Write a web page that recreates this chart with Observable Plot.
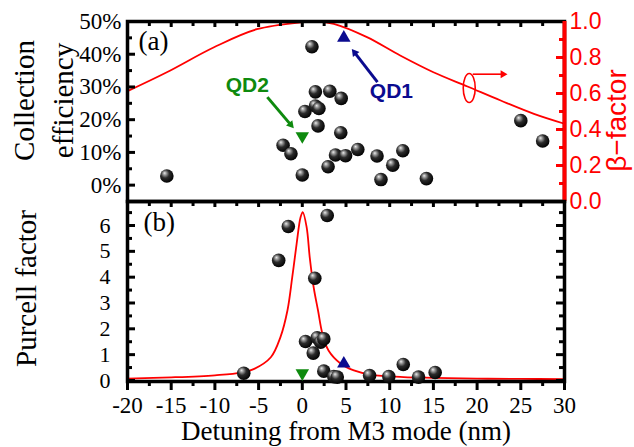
<!DOCTYPE html>
<html><head><meta charset="utf-8">
<script src="https://cdn.jsdelivr.net/npm/d3@7"></script>
<script src="https://cdn.jsdelivr.net/npm/@observablehq/plot@0.6"></script>
<style>
body{margin:0;background:#fff;}
#chart{position:relative;width:634px;height:447px;overflow:hidden;background:#fff;}
</style></head><body>
<svg width="0" height="0" style="position:absolute"><defs>
<radialGradient id="ball" cx="0.42" cy="0.4" r="0.62" fx="0.33" fy="0.28">
<stop offset="0" stop-color="#ececec"/><stop offset="0.2" stop-color="#9a9a9a"/><stop offset="0.5" stop-color="#2b2b2b"/><stop offset="1" stop-color="#000"/>
</radialGradient></defs></svg>
<div id="chart"></div>
<script>
// ---------- data ----------
// (a) collection efficiency of measured QDs
const effDetuning = [-15.5,-2.2,-1.3,0,0.3,1.1,1.5,1.5,1.9,1.8,3.15,4.45,4.4,2.95,3.8,4.95,6.35,8.55,10.35,11.5,9.0,14.2,25.0,27.5];
const effValue    = [2.8,12.2,9.6,3.1,22.5,42.3,28.5,24.2,23.4,18.1,28.7,26.5,16.0,5.6,9.2,9.0,10.9,8.9,6.1,10.5,1.7,2.0,19.7,13.5];
// beta-factor simulation curve
const betaDetuning = [-20,-15.5,-10.1,-5.2,0,1.5,3.6,7.4,11.2,15.0,18.9,22.7,26.5,30];
const betaValue    = [0.613,0.718,0.857,0.957,0.996,1.0,0.987,0.913,0.811,0.718,0.639,0.561,0.487,0.432];
// (b) Purcell factor of measured QDs
const purDetuning = [-6.7,-2.7,-1.6,0.37,1.25,1.43,1.7,2.1,2.46,2.85,2.46,3.6,4.0,7.7,9.9,11.55,13.3,15.2];
const purValue    = [0.28,4.65,5.96,1.51,1.06,3.96,1.65,1.48,1.61,6.39,0.36,0.15,0.13,0.19,0.15,0.62,0.13,0.31];
// Purcell simulation curve
const curveDetuning = [-20,-15,-10,-7,-5.5,-3.6,-2.5,-1.7,-1.15,-0.65,-0.2,0.05,0.5,0.85,1.3,1.8,2.3,3.0,4.4,5.9,7.8,11.6,15,20,25,30];
const curvePurcell  = [0.07,0.12,0.2,0.3,0.45,0.9,1.68,2.71,4.0,5.29,6.32,6.52,5.93,4.77,3.61,2.71,1.81,1.16,0.65,0.39,0.23,0.13,0.1,0.07,0.06,0.05];
// highlighted dots
const qdNames = ["QD1","QD2"];
const qdDetuning = [4.75, 0];
const qdEff = [45, 15];
const qdPurcell = [0.65, 0.28];
// ticks
const xLabels = [-20,-15,-10,-5,0,5,10,15,20,25,30];
const xMinor = [-17.5,-12.5,-7.5,-2.5,2.5,7.5,12.5,17.5,22.5,27.5];
const effLabels = [0,10,20,30,40,50];
const effMinor = [5,15,25,35,45];
const betaLabels = [0,0.2,0.4,0.6,0.8,1.0];
const betaMinor = [0.1,0.3,0.5,0.7,0.9];
const purLabels = [0,1,2,3,4,5,6];
const purMinor = [0.5,1.5,2.5,3.5,4.5,5.5,6.5];
// annotations (panel a coordinates: detuning, %)
const annoText = [{t:"QD2", x:-6.3, y:30.6, c:"#0e8a0e"},{t:"QD1", x:10.2, y:28.6, c:"#0b0b8f"}];
const annoArrows = [
  {x1:-4.0, y1:26.9, x2:-0.8, y2:16.8, c:"#0e8a0e", w:3, r:4.6},
  {x1:8.6,  y1:31.5, x2:5.5,  y2:42.2, c:"#0b0b8f", w:3, r:4.6},
  {x1:19.5, y1:33.9, x2:23.7, y2:33.9, c:"red",     w:1.6, r:4.2}
];
const ellipseAt = [{x:19.1, y:29.7}];

// ---------- build ----------
const W = 634, ML = 127, MR = 70, PW = W - ML - MR, PH = 180;
const X0 = -20, X1 = 30, Y0 = -5, Y1 = 50;
const kx = PW / (X1 - X0), ky = PH / (Y1 - Y0);   // px per data unit
const toPct = b => b * 55 - 5;
const eff = effDetuning.map((x,i)=>({x, y: effValue[i]}));
const beta = betaDetuning.map((x,i)=>({x, b: betaValue[i]}));
const pur = purDetuning.map((x,i)=>({x, y: purValue[i]}));
const pcurve = curveDetuning.map((x,i)=>({x, y: curvePurcell[i]}));
const qd = qdNames.map((n,i)=>({n, x: qdDetuning[i], e: qdEff[i], p: qdPurcell[i]}));
const qdColor = {QD1:"#0b0b8f", QD2:"#0e8a0e"};

// filled arrow heads: triangle at end of each shaft, rotated along the shaft direction
const heads = annoArrows.map(a => {
  const dxp = (a.x2 - a.x1) * kx, dyp = -(a.y2 - a.y1) * ky;
  const len = Math.hypot(dxp, dyp), ux = dxp / len, uy = dyp / len;
  const back = a.r * 1.55; // centroid distance from tip
  return {x: a.x2 - ux * back / kx, y: a.y2 + uy * back / ky, c: a.c, r: a.r,
          rot: Math.atan2(ux, -uy) * 180 / Math.PI,
          sx: a.x1, sy: a.y1, ex: a.x2 - ux * back * 1.2 / kx, ey: a.y2 + uy * back * 1.2 / ky, w: a.w};
});

const ellipse = {draw(ctx, size){ const rx=6, ry=14.5, k=0.5523;
  ctx.moveTo(0,-ry);
  ctx.bezierCurveTo(k*rx,-ry, rx,-k*ry, rx,0);
  ctx.bezierCurveTo(rx,k*ry, k*rx,ry, 0,ry);
  ctx.bezierCurveTo(-k*rx,ry, -rx,k*ry, -rx,0);
  ctx.bezierCurveTo(-rx,-k*ry, -k*rx,-ry, 0,-ry);
  ctx.closePath(); }};

const mid = {textAnchor: "middle", lineAnchor: "middle"};
const baseStyle = {position:"absolute", left:"0px", background:"transparent", overflow:"visible", fontFamily:"Liberation Serif", color:"black"};

const topPlot = Plot.plot({
  width: W, height: 201, marginTop: 21, marginBottom: 0, marginLeft: ML, marginRight: MR,
  x: {domain: [X0, X1], axis: null}, y: {domain: [Y0, Y1], axis: null},
  style: {...baseStyle, top: "0px"},
  marks: [
    Plot.line(beta, {x: "x", y: d => toPct(d.b), stroke: "red", strokeWidth: 1.8, curve: "catmull-rom"}),
    Plot.tickY(effLabels, {y: d => d, insetRight: PW - 8, strokeWidth: 3}),
    Plot.tickY(effMinor, {y: d => d, insetRight: PW - 5, strokeWidth: 3}),
    Plot.tickX(xLabels, {x: d => d, insetBottom: PH - 6, strokeWidth: 3}),
    Plot.tickX(xMinor, {x: d => d, insetBottom: PH - 5, strokeWidth: 3}),
    Plot.tickY(betaLabels, {y: d => toPct(d), insetLeft: PW - 8, stroke: "red", strokeWidth: 3}),
    Plot.tickY(betaMinor, {y: d => toPct(d), insetLeft: PW - 5, stroke: "red", strokeWidth: 3}),
    Plot.frame({strokeWidth: 3.5}),
    Plot.ruleX([X1], {stroke: "red", strokeWidth: 4}),
    Plot.axisY(effLabels, {anchor: "left", tickSize: 0, tickPadding: 6, tickFormat: d => d + "%", fontSize: 23, label: null}),
    Plot.axisY(betaLabels.map(toPct), {anchor: "right", tickSize: 0, tickPadding: 5, tickFormat: d => ((d + 5) / 55).toFixed(1), fill: "red", fontFamily: "Liberation Sans", fontSize: 23, label: null}),
    Plot.text(["Collection"], {frameAnchor: "left", ...mid, dx: -103, dy: -11, rotate: -90, fontSize: 29}),
    Plot.text(["efficiency"], {frameAnchor: "left", ...mid, dx: -64, dy: -11, rotate: -90, fontSize: 29}),
    Plot.text(["β−factor"], {frameAnchor: "right", ...mid, dx: 53, dy: 9, rotate: -90, fontSize: 28, fill: "red", fontFamily: "Liberation Sans"}),
    Plot.text(["(a)"], {frameAnchor: "top-left", textAnchor: "start", lineAnchor: "middle", dx: 11, dy: 20, fontSize: 27}),
    Plot.link(heads, {x1: "sx", y1: "sy", x2: "ex", y2: "ey", stroke: "c", strokeWidth: "w"}),
    Plot.dot(heads, {x: "x", y: "y", r: "r", symbol: "triangle", fill: "c", rotate: "rot"}),
    Plot.text(annoText, {x: "x", y: "y", text: "t", fill: "c", fontFamily: "Liberation Sans", fontWeight: "bold", fontSize: 21}),
    Plot.dot(ellipseAt, {x: "x", y: "y", symbol: ellipse, stroke: "red", strokeWidth: 1.6, fill: "none"}),
    Plot.dot(eff, {x: "x", y: "y", r: 6.8, fill: "url(#ball)"}),
    Plot.dot(qd, {x: "x", y: "e", r: 5, symbol: "triangle", fill: d => qdColor[d.n], rotate: d => d.n === "QD2" ? 180 : 0})
  ]
});

const botPlot = Plot.plot({
  width: W, height: 246, marginTop: 0, marginBottom: 66, marginLeft: ML, marginRight: MR,
  x: {domain: [X0, X1], axis: null}, y: {domain: [-0.04, 6.93], axis: null},
  style: {...baseStyle, top: "201px"},
  marks: [
    Plot.line(pcurve, {x: "x", y: "y", stroke: "red", strokeWidth: 1.8, curve: "catmull-rom"}),
    Plot.tickY(purLabels, {y: d => d, insetRight: PW - 8, strokeWidth: 3}),
    Plot.tickY(purMinor, {y: d => d, insetRight: PW - 5, strokeWidth: 3}),
    Plot.tickY(purLabels, {y: d => d, insetLeft: PW - 8, strokeWidth: 3}),
    Plot.tickY(purMinor, {y: d => d, insetLeft: PW - 5, strokeWidth: 3}),
    Plot.tickX(xLabels, {x: d => d, insetBottom: PH - 6, strokeWidth: 3}),
    Plot.tickX(xMinor, {x: d => d, insetBottom: PH - 5, strokeWidth: 3}),
    Plot.tickX(xLabels, {x: d => d, insetTop: PH, insetBottom: -9, strokeWidth: 3}),
    Plot.tickX(xMinor, {x: d => d, insetTop: PH, insetBottom: -5, strokeWidth: 3}),
    Plot.frame({strokeWidth: 3.5}),
    Plot.axisX(xLabels, {anchor: "bottom", tickSize: 0, tickPadding: 15, tickFormat: d => String(d), fontSize: 23, label: null}),
    Plot.axisY(purLabels, {anchor: "left", tickSize: 0, tickPadding: 17, fontSize: 22, label: null}),
    Plot.text(["Purcell factor"], {frameAnchor: "left", ...mid, dx: -101, dy: -3, rotate: -90, fontSize: 29}),
    Plot.text(["Detuning from M3 mode (nm)"], {frameAnchor: "bottom", ...mid, dy: 50, fontSize: 27}),
    Plot.text(["(b)"], {frameAnchor: "top-left", textAnchor: "start", lineAnchor: "middle", dx: 16, dy: 21, fontSize: 27}),
    Plot.dot(pur, {x: "x", y: "y", r: 6.8, fill: "url(#ball)"}),
    Plot.dot(qd, {x: "x", y: "p", r: 5, symbol: "triangle", fill: d => qdColor[d.n], rotate: d => d.n === "QD2" ? 180 : 0})
  ]
});

const chart = document.getElementById("chart");
chart.appendChild(topPlot);
chart.appendChild(botPlot);
</script>
</body></html>
